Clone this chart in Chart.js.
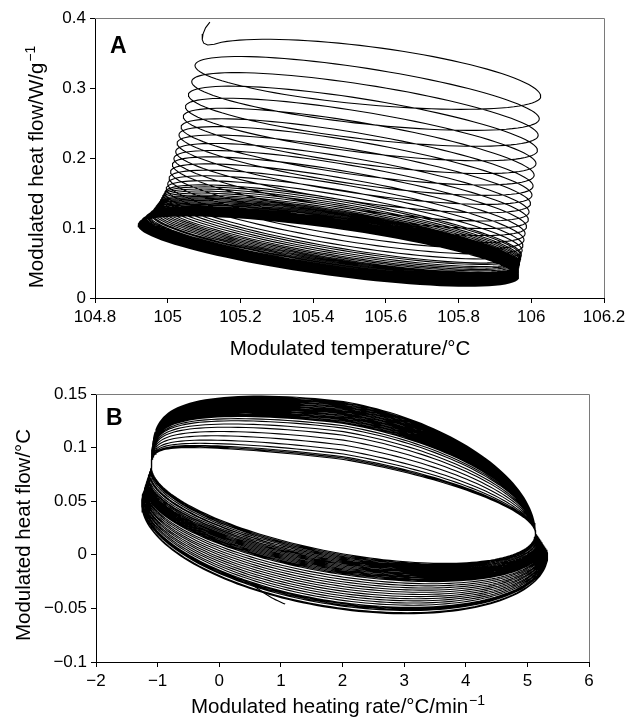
<!DOCTYPE html>
<html><head><meta charset="utf-8">
<script src="https://cdn.jsdelivr.net/npm/chart.js@4/dist/chart.umd.min.js"></script>
<style>
html,body{margin:0;padding:0;background:#fff;}
#wrapA{position:absolute;left:0;top:0;width:630px;height:362px;}
#wrapB{position:absolute;left:0;top:362px;width:630px;height:358px;}
canvas{display:block;}
</style></head><body>
<div id="wrapA"><canvas id="cA" width="630" height="362"></canvas></div>
<div id="wrapB"><canvas id="cB" width="630" height="358"></canvas></div>
<script>
// ---------- Panel A data (modulated temperature / modulated heat flow) ----------
const xTicksA = [104.8, 105, 105.2, 105.4, 105.6, 105.8, 106, 106.2];
const yTicksA = [0, 0.1, 0.2, 0.3, 0.4];
// start of the record (top left)
const leadInT  = [105.116, 105.104, 105.097, 105.095, 105.099, 105.110, 105.128];
const leadInHF = [0.394, 0.386, 0.377, 0.369, 0.364, 0.3615, 0.3625];
// left (cold) turning point of each modulation cycle
const leftTipT = [105.090, 105.075, 105.066, 105.057, 105.049, 105.043, 105.037, 105.031, 105.026, 105.022,
  105.017, 105.013, 105.008, 105.004, 105.000, 104.996, 104.992,
  104.989, 104.986, 104.983, 104.980, 104.977, 104.974, 104.971, 104.968, 104.965, 104.962,
  104.959, 104.956, 104.953, 104.950, 104.947, 104.944, 104.941, 104.939, 104.937, 104.935,
  104.933, 104.931, 104.929, 104.928, 104.927, 104.926, 104.925, 104.924, 104.923, 104.922,
  104.921, 104.921, 104.920, 104.920, 104.920, 104.919, 104.919, 104.919, 104.919, 104.919];
const leftTipHF = [0.350, 0.332, 0.309, 0.290, 0.273, 0.259, 0.244, 0.233, 0.221, 0.209,
  0.199, 0.190, 0.180, 0.171, 0.163, 0.156, 0.150,
  0.147, 0.144, 0.141, 0.138, 0.135, 0.133, 0.131, 0.129, 0.127, 0.125,
  0.123, 0.121, 0.120, 0.118, 0.117, 0.116, 0.115, 0.114, 0.113, 0.112,
  0.111, 0.110, 0.110, 0.109, 0.108, 0.108, 0.107, 0.107, 0.106, 0.106,
  0.106, 0.105, 0.105, 0.105, 0.105, 0.104, 0.104, 0.104, 0.104, 0.104];
// right (hot) turning point of each modulation cycle
const rightTipT = [106.026, 106.022, 106.019, 106.017, 106.013, 106.008, 106.005, 106.002, 105.998, 105.994,
  105.992, 105.987, 105.983, 105.980, 105.977, 105.975, 105.973,
  105.972, 105.971, 105.970, 105.969, 105.968, 105.968, 105.967, 105.967, 105.966, 105.966,
  105.965, 105.965, 105.965, 105.965, 105.965, 105.965, 105.965, 105.965, 105.965, 105.965,
  105.965, 105.965, 105.965, 105.965, 105.965, 105.965, 105.965, 105.965, 105.965, 105.965,
  105.965, 105.965, 105.965, 105.965, 105.965, 105.965, 105.965, 105.965, 105.965, 105.965];
const rightTipHF = [0.288, 0.256, 0.2325, 0.211, 0.192, 0.1755, 0.160, 0.147, 0.135, 0.123,
  0.112, 0.102, 0.092, 0.083, 0.075, 0.068, 0.062,
  0.060, 0.057, 0.055, 0.053, 0.051, 0.049, 0.048, 0.047, 0.046, 0.045,
  0.044, 0.043, 0.042, 0.041, 0.040, 0.040, 0.039, 0.038, 0.038, 0.037,
  0.037, 0.036, 0.036, 0.035, 0.035, 0.034, 0.034, 0.034, 0.033, 0.033,
  0.033, 0.032, 0.032, 0.032, 0.031, 0.031, 0.031, 0.031, 0.030, 0.030];

// ---------- Panel B data (modulated heating rate / modulated heat flow) ----------
const xTicksB = [-2, -1, 0, 1, 2, 3, 4, 5, 6];
const yTicksB = [-0.1, -0.05, 0, 0.05, 0.1, 0.15];
const convergeRateB = [-1.10, 5.13];   // heating rate where the loops meet (left, right)
const convergeHFB   = [0.082, 0.020];  // heat flow at those meeting points
const bulgeRateB    = [-1.26, 5.33];   // outermost excursion of the lower branch (left, right)
const bulgeHFB      = [0.048, 0.000];
const loopTopB = [0.100, 0.101, 0.102, 0.104, 0.107, 0.111, 0.115, 0.119, 0.122, 0.125,
  0.127, 0.129, 0.130, 0.131, 0.132, 0.133, 0.134, 0.135, 0.136, 0.137,
  0.138, 0.138, 0.139, 0.140, 0.140, 0.141, 0.142, 0.142, 0.143, 0.143,
  0.144, 0.144, 0.145, 0.145, 0.146, 0.146, 0.147, 0.147, 0.148, 0.148];
const loopBottomB = [-0.008, -0.009, -0.010, -0.010, -0.011, -0.012, -0.012, -0.013, -0.014, -0.014,
  -0.015, -0.016, -0.016, -0.017, -0.018, -0.018, -0.019, -0.020, -0.021, -0.022,
  -0.023, -0.024, -0.025, -0.027, -0.029, -0.031, -0.033, -0.035, -0.037, -0.039,
  -0.041, -0.043, -0.045, -0.047, -0.049, -0.050, -0.051, -0.052, -0.054, -0.055];
const tailRateB = [1.07, 0.85, 0.61, 0.35];
const tailHFB   = [-0.046, -0.040, -0.031, -0.022];

// ---------- build paths ----------
function buildA() {
  const pts = [];
  for (let i = 0; i < leadInT.length; i++) pts.push({x: leadInT[i], y: leadInHF[i]});
  const n = leftTipT.length, N = 50;
  for (let k = 0; k < n; k++) {
    const TL = leftTipT[k], HL = leftTipHF[k], TR = rightTipT[k], HR = rightTipHF[k];
    const TL2 = k + 1 < n ? leftTipT[k + 1] : TL, HL2 = k + 1 < n ? leftTipHF[k + 1] : HL;
    const wU = k === 0 ? 0.040 : 0.034, wL = 0.034;
    for (let j = (k === 0 ? 8 : 0); j <= N; j++) {
      const p = Math.PI * j / N, u = (1 - Math.cos(p)) / 2;
      pts.push({x: TL + (TR - TL) * u, y: HL + (HR - HL) * u + wU * Math.sin(p)});
    }
    for (let j = 1; j <= N; j++) {
      const p = Math.PI * j / N, u = (1 - Math.cos(p)) / 2;
      pts.push({x: TR + (TL2 - TR) * u, y: HR + (HL2 - HR) * u - wL * Math.sin(p)});
    }
  }
  return pts;
}
function buildB() {
  const pts = [];
  const cL = {x: convergeRateB[0], y: convergeHFB[0]}, cR = {x: convergeRateB[1], y: convergeHFB[1]};
  const xc = (cL.x + cR.x) / 2, A = (cR.x - cL.x) / 2, hc = (cL.y + cR.y) / 2, a = (cL.y - cR.y) / 2;
  const radii = loopTopB.map((t, i) => (t - loopBottomB[i]) / 2);
  const rMin = Math.min(...radii), rMax = Math.max(...radii);
  const N = 90, NC = 10;
  for (let k = 0; k < loopTopB.length; k++) {
    const top = loopTopB[k], bot = loopBottomB[k];
    const g = (radii[k] - rMin) / (rMax - rMin);
    const bU = Math.sqrt(Math.max((top - hc) ** 2 - a * a, 0));
    // upper branch: left meeting point -> right meeting point
    for (let j = 0; j <= N; j++) {
      const p = Math.PI * j / N, c = Math.cos(p), s = Math.sin(p);
      const x = xc - A * c - (c > 0 ? 1.3 * s * s * c : 0);
      pts.push({x: x, y: hc + a * c + bU * s});
    }
    const eL = {x: cL.x + (bulgeRateB[0] - cL.x) * g, y: cL.y + (bulgeHFB[0] - cL.y) * g};
    const eR = {x: cR.x + (bulgeRateB[1] - cR.x) * g, y: cR.y + (bulgeHFB[1] - cR.y) * g};
    // right cap
    for (let j = 1; j <= NC; j++) {
      const t = j / NC;
      pts.push({x: cR.x + (eR.x - cR.x) * (1 - Math.cos(Math.PI * t)) / 2, y: cR.y + (eR.y - cR.y) * t});
    }
    // lower branch: right bulge -> left bulge
    const xcL = (eL.x + eR.x) / 2, AL = (eR.x - eL.x) / 2, hL = (eL.y + eR.y) / 2, aL = (eL.y - eR.y) / 2;
    const bL = Math.sqrt(Math.max((hL - bot) ** 2 - aL * aL, 0));
    for (let j = 1; j <= N; j++) {
      const p = Math.PI + Math.PI * j / N, c = Math.cos(p), s = Math.sin(p);
      pts.push({x: xcL - AL * c, y: hL + aL * c + bL * s});
    }
    // left cap
    for (let j = 1; j <= NC; j++) {
      const t = j / NC;
      pts.push({x: eL.x + (cL.x - eL.x) * (1 - Math.cos(Math.PI * t)) / 2, y: eL.y + (cL.y - eL.y) * t});
    }
  }
  return pts;
}
const tailPts = tailRateB.map((v, i) => ({x: v, y: tailHFB[i]}));

// ---------- helpers ----------
const FONT = "'Liberation Sans', Arial, Helvetica, sans-serif";
function fmt(v) {
  const r = Math.round(v * 1000) / 1000;
  return (r < 0 ? '\u2212' : '') + String(Math.abs(r));
}
function axis(min, max, ticks, fit) {
  return {
    type: 'linear', min: min, max: max,
    afterBuildTicks: s => { s.ticks = ticks.map(v => ({value: v})); },
    afterFit: fit,
    ticks: {callback: v => fmt(v), font: {family: FONT, size: 17}, color: '#000', padding: 4,
            maxRotation: 0, autoSkip: false},
    grid: {drawOnChartArea: false, drawTicks: true, tickLength: 5, color: '#000', lineWidth: 1},
    border: {display: true, color: '#000', width: 1}
  };
}
function drawTitle(ctx, text, sup, x, y, rot, size) {
  ctx.save();
  ctx.fillStyle = '#000';
  ctx.textBaseline = 'alphabetic';
  ctx.font = size + 'px ' + FONT;
  const wm = ctx.measureText(text).width;
  ctx.font = '14px ' + FONT;
  const ws = sup ? ctx.measureText(sup).width + 1 : 0;
  const tot = wm + ws;
  ctx.translate(x, y);
  if (rot) ctx.rotate(-Math.PI / 2);
  ctx.font = size + 'px ' + FONT;
  ctx.fillText(text, -tot / 2, 0);
  if (sup) { ctx.font = '14px ' + FONT; ctx.fillText(sup, -tot / 2 + wm + 1, -8); }
  ctx.restore();
}
function decor(cfg) {
  return {
    id: 'decor' + cfg.letter,
    afterDatasetsDraw(chart) {
      const ctx = chart.ctx, a = chart.chartArea;
      ctx.save();
      ctx.strokeStyle = '#7a7a7a'; ctx.lineWidth = 1;
      ctx.beginPath();
      ctx.moveTo(a.left, Math.round(a.top) + 0.5);
      ctx.lineTo(Math.round(a.right) + 0.5, Math.round(a.top) + 0.5);
      ctx.lineTo(Math.round(a.right) + 0.5, a.bottom);
      ctx.stroke();
      ctx.restore();
    },
    afterDraw(chart) {
      const ctx = chart.ctx;
      ctx.save();
      ctx.fillStyle = '#000';
      ctx.font = 'bold 23px ' + FONT;
      ctx.textBaseline = 'alphabetic';
      ctx.fillText(cfg.letter, cfg.lx, cfg.ly);
      ctx.restore();
      drawTitle(ctx, cfg.xt, cfg.xs, cfg.xx, cfg.xy, false, 20.5);
      drawTitle(ctx, cfg.yt, cfg.ys, cfg.yx, cfg.yy, true, 20.5);
    }
  };
}
const lineStyle = {showLine: true, borderColor: '#000', borderWidth: 1.1, pointRadius: 0, fill: false, tension: 0};

// ---------- Chart A ----------
new Chart(document.getElementById('cA'), {
  type: 'scatter',
  data: {datasets: [Object.assign({data: buildA()}, lineStyle)]},
  options: {
    responsive: false, animation: false, events: [],
    layout: {padding: {left: 0, right: 26, top: 18, bottom: 0}},
    plugins: {legend: {display: false}, tooltip: {enabled: false}},
    scales: {
      x: axis(104.8, 106.2, xTicksA, s => { s.height = 64; }),
      y: axis(0, 0.4, yTicksA, s => { s.width = 95; })
    }
  },
  plugins: [decor({letter: 'A', lx: 110, ly: 53,
    xt: 'Modulated temperature/\u00B0C', xs: '', xx: 350, xy: 355,
    yt: 'Modulated heat flow/W/g', ys: '\u22121', yx: 43, yy: 167})]
});

// ---------- Chart B ----------
new Chart(document.getElementById('cB'), {
  type: 'scatter',
  data: {datasets: [
    Object.assign({data: buildB()}, lineStyle),
    Object.assign({data: tailPts}, lineStyle, {tension: 0.3})
  ]},
  options: {
    responsive: false, animation: false, events: [],
    layout: {padding: {left: 0, right: 41, top: 32, bottom: 0}},
    plugins: {legend: {display: false}, tooltip: {enabled: false}},
    scales: {
      x: axis(-2, 6, xTicksB, s => { s.height = 58; }),
      y: axis(-0.1, 0.15, yTicksB, s => { s.width = 96; })
    }
  },
  plugins: [decor({letter: 'B', lx: 106, ly: 63,
    xt: 'Modulated heating rate/\u00B0C/min', xs: '\u22121', xx: 338, xy: 351,
    yt: 'Modulated heat flow/\u00B0C', ys: '', yx: 30, yy: 173})]
});
</script>
</body></html>
